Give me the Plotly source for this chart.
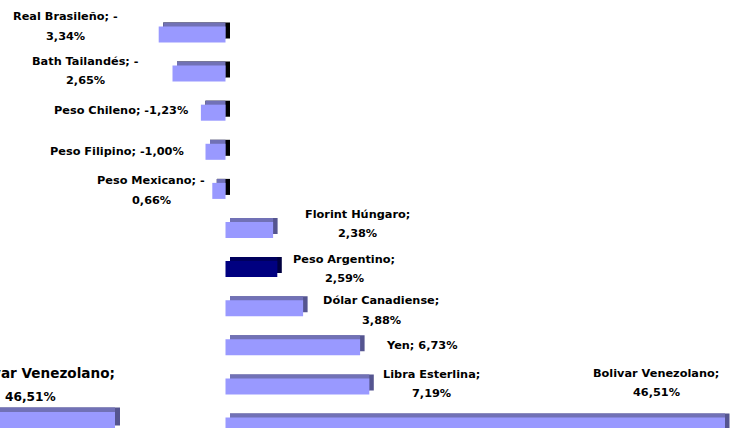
import numpy as np
import plotly.graph_objects as go

# ---- data ----
currencies = ["Real Brasileño", "Bath Tailandés", "Peso Chileno", "Peso Filipino",
              "Peso Mexicano", "Florint Húngaro", "Peso Argentino", "Dólar Canadiense",
              "Yen", "Libra Esterlina", "Bolivar Venezolano"]
values = [-3.34, -2.65, -1.23, -1.00, -0.66, 2.38, 2.59, 3.88, 6.73, 7.19, 46.51]
wrap = [True, True, False, False, True, True, True, True, False, True, True]
highlight = "Peso Argentino"

# ---- styling / layout constants ----
X_LEFT, X_RIGHT = -11.275, 25.575      # visible x range (percent)
X_CLIP = 24.975                         # where the plot area cuts the bars
Y_TOP, Y_BOTTOM = -0.882, 10.064
W = 0.41                                # bar thickness (category units)
DX = 0.225                              # 3D depth in x units
DY = 0.102                              # 3D depth in y units
FONT = dict(family="DejaVu Sans", size=11.3, color="black", weight="bold")
LINE_SP = 19.5
label_dx = [-93, -87, -80, -89, -61, 84, 67, 78, 62, 62, -69]
label_dy = [-8, -2.5, -2, 0, -0.5, -6, 0, 2.5, -2, -2.5, -42.5]


def fmt(v):
    return f"{v:.2f}".replace(".", ",")


def label_lines(name, v, w):
    if not w:
        return [f"{name}; {fmt(v)}%"]
    if v < 0:
        return [f"{name}; -", f"{fmt(abs(v))}%"]
    return [f"{name};", f"{fmt(v)}%"]


vals = np.array(values)
shown = np.clip(vals, X_LEFT, X_CLIP)
lo = np.minimum(shown, 0)
hi = np.maximum(shown, 0)
idx = list(range(len(currencies)))

front_col = ["#000080" if c == highlight else "#9999FF" for c in currencies]
top_col = ["#00005C" if c == highlight else "#7171B6" for c in currencies]
side_col = ["#000040" if c == highlight else ("#000000" if v < 0 else "#555590")
            for c, v in zip(currencies, values)]

fig = go.Figure()
# side faces (back-most)
fig.add_trace(go.Bar(orientation="h", y=idx, base=lo + DX, x=hi - lo, width=W,
                     offset=-W / 2 - DY, marker=dict(color=side_col, line=dict(width=0)),
                     hoverinfo="skip", showlegend=False))
# top faces
fig.add_trace(go.Bar(orientation="h", y=idx, base=lo + DX, x=hi - lo - DX, width=W,
                     offset=-W / 2 - DY, marker=dict(color=top_col, line=dict(width=0)),
                     hoverinfo="skip", showlegend=False))
# front faces
fig.add_trace(go.Bar(orientation="h", y=idx, base=0, x=shown, width=W,
                     offset=-W / 2, marker=dict(color=front_col, line=dict(width=0)),
                     customdata=vals, hovertemplate="%{customdata}%<extra></extra>",
                     showlegend=False))

annotations = []
for i, (name, v, w) in enumerate(zip(currencies, values, wrap)):
    lines = label_lines(name, v, w)
    n = len(lines)
    for k, t in enumerate(lines):
        off = label_dy[i] + (k - (n - 1) / 2) * LINE_SP
        annotations.append(dict(x=shown[i], y=i, xref="x", yref="y", text=t,
                                showarrow=False, xanchor="center", xshift=label_dx[i],
                                yshift=-off, font=FONT))

# ---- clipped fragment of a second copy of the largest bar (bottom-left) ----
big_name = currencies[-1]
big_val = values[-1]
W2, DX2, DY2 = 0.45, 0.5, 0.11
fig.add_trace(go.Bar(orientation="h", y=[0], base=[big_val - 20 + DX2], x=[20], width=W2,
                     offset=-W2 / 2 - DY2, xaxis="x2", yaxis="y2",
                     marker=dict(color="#555590", line=dict(width=0)),
                     hoverinfo="skip", showlegend=False))
fig.add_trace(go.Bar(orientation="h", y=[0], base=[big_val - 20 + DX2], x=[20 - DX2], width=W2,
                     offset=-W2 / 2 - DY2, xaxis="x2", yaxis="y2",
                     marker=dict(color="#7171B6", line=dict(width=0)),
                     hoverinfo="skip", showlegend=False))
fig.add_trace(go.Bar(orientation="h", y=[0], base=[big_val - 20], x=[20], width=W2,
                     offset=-W2 / 2, xaxis="x2", yaxis="y2",
                     marker=dict(color="#9999FF", line=dict(width=0)),
                     hoverinfo="skip", showlegend=False))
FONT2 = dict(FONT, size=13.6)
FONT3 = dict(FONT, size=12.2)
big_lines = label_lines(big_name, big_val, True)
annotations.append(dict(x=big_val, y=0, xref="x2", yref="y2", text=big_lines[0],
                        showarrow=False, xanchor="right", xshift=2, yshift=48, font=FONT2))
annotations.append(dict(x=big_val, y=0, xref="x2", yref="y2", text=big_lines[1],
                        showarrow=False, xanchor="center", xshift=-85, yshift=24, font=FONT3))

axis_off = dict(showgrid=False, zeroline=False, showticklabels=False, showline=False,
                ticks="", fixedrange=True)
fig.update_layout(
    width=737, height=428,
    margin=dict(l=0, r=0, t=0, b=0),
    paper_bgcolor="white", plot_bgcolor="rgba(0,0,0,0)",
    barmode="overlay",
    xaxis=dict(range=[X_LEFT, X_RIGHT], domain=[0, 1], **axis_off),
    yaxis=dict(range=[Y_BOTTOM, Y_TOP], domain=[0, 1], **axis_off),
    xaxis2=dict(range=[big_val - 11.5, big_val + 1.0], domain=[0, 125 / 737],
                anchor="y2", **axis_off),
    yaxis2=dict(range=[0.175, -10.525], domain=[0, 1], anchor="x2", **axis_off),
    annotations=annotations,
)

fig.write_html("out.html", config={"displayModeBar": False},
               post_script="document.body.style.margin='0px';"
                           "document.body.style.overflow='hidden';")
